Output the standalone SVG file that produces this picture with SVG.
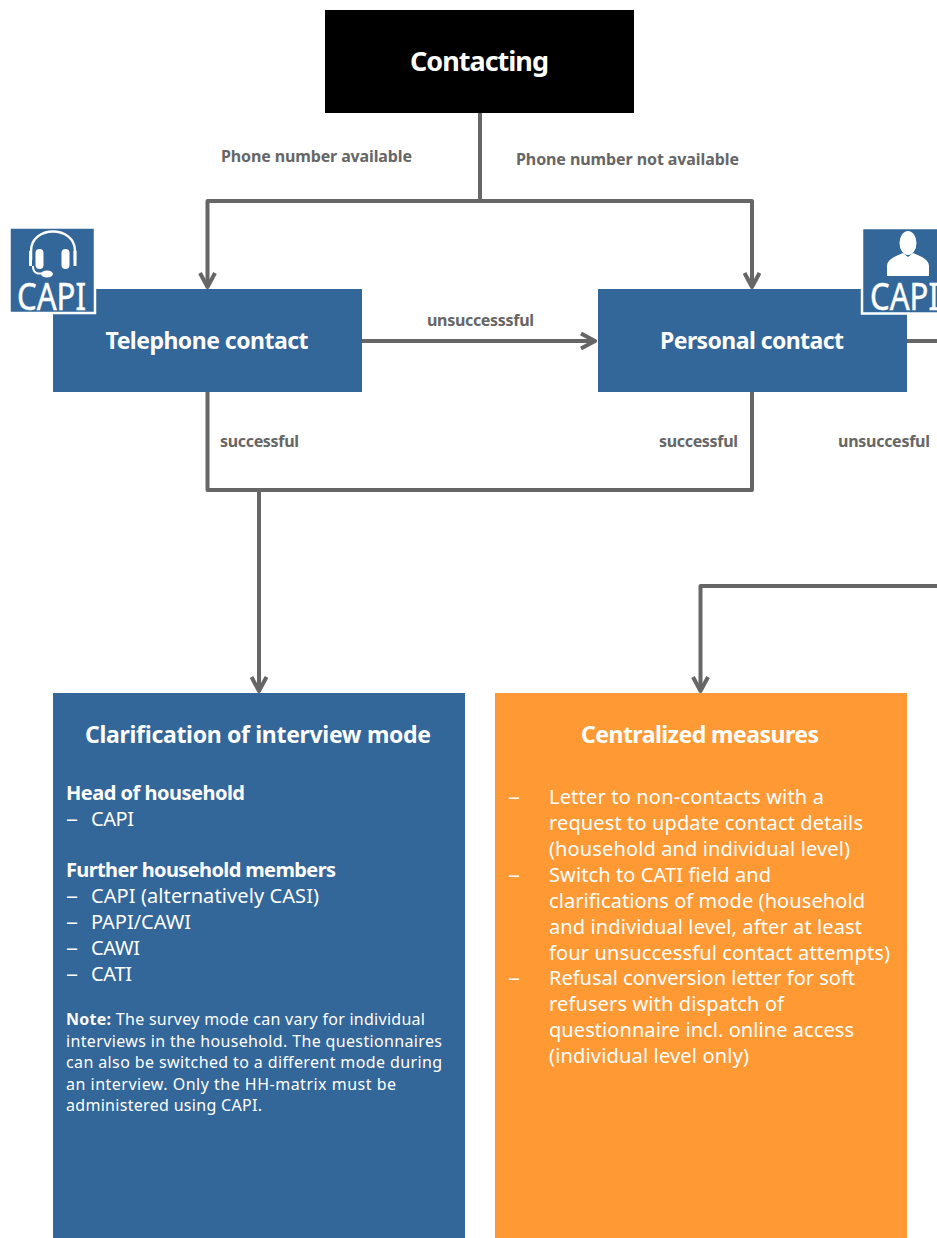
<svg xmlns="http://www.w3.org/2000/svg" width="937" height="1238" viewBox="0 0 937 1238">
<style>
text{font-family:"Noto Sans","Open Sans","Liberation Sans",sans-serif;fill:#fff}
.t{font-weight:700;font-size:23px;text-anchor:middle}
.l{font-weight:700;font-size:16px;fill:#666}
.b{font-size:20px}
.bb{font-size:20px;font-weight:700}
.n{font-size:16px}
.o{font-size:20px;fill:#fff}
.c{font-size:38px;stroke:#fff;stroke-width:.5}
.blue{fill:#336699}
.conn{fill:none;stroke:#666;stroke-width:4;stroke-linejoin:round}
.ic{fill:#fff}
</style>
<defs>
<marker id="a" markerUnits="userSpaceOnUse" markerWidth="20" markerHeight="20" refX="15" refY="9" orient="auto"><path d="M1 1.500L15 9L1 16.500" fill="none" stroke="#666" stroke-width="4" stroke-linejoin="round"/></marker>
</defs>
<g id="connectors">
<path class="conn" d="M480 113V201"/>
<path class="conn" d="M480 201H207.500V287" marker-end="url(#a)"/>
<path class="conn" d="M480 201H752V287" marker-end="url(#a)"/>
<path class="conn" d="M362 341H595" marker-end="url(#a)"/>
<path class="conn" d="M907 341H937"/>
<path class="conn" d="M207.500 392V490H752V392"/>
<path class="conn" d="M259 490V691" marker-end="url(#a)"/>
<path class="conn" d="M937 586H700.500V691" marker-end="url(#a)"/>
</g>
<g id="labels">
<text class="l" x="221" y="162" textLength="191">Phone number available</text>
<text class="l" x="516" y="165" textLength="223">Phone number not available</text>
<text class="l" x="427" y="326" textLength="107">unsuccesssful</text>
<text class="l" x="220" y="447" textLength="79">successful</text>
<text class="l" x="659" y="447" textLength="79">successful</text>
<text class="l" x="838" y="447" textLength="92">unsuccesful</text>
</g>
<g id="contacting">
<rect x="325" y="10" width="309" height="103" fill="#000"/>
<text class="t" x="479.500" y="71" style="font-size:27px" textLength="139">Contacting</text>
</g>
<g id="telephone-contact">
<rect x="53" y="289" width="309" height="103" class="blue"/>
<text class="t" x="207" y="349" textLength="203">Telephone contact</text>
</g>
<g id="personal-contact">
<rect x="598" y="289" width="309" height="103" class="blue"/>
<text class="t" x="752" y="349" textLength="184">Personal contact</text>
</g>
<g id="capi-left">
<rect x="9.500" y="227.500" width="85.500" height="85.500" class="blue" stroke="#fff" stroke-width="2.500"/>
<path d="M31 260V251C31 225 75 225 75 251V260" fill="none" stroke="#fff" stroke-width="2.500"/>
<rect x="35.500" y="249" width="8" height="20" rx="4" class="ic"/>
<rect x="61.500" y="249" width="8" height="20" rx="4" class="ic"/>
<rect x="29" y="251" width="3" height="15" class="ic"/>
<rect x="73.500" y="251" width="3" height="15" class="ic"/>
<path d="M33 266C33 273 37 274 43 273.500" fill="none" stroke="#fff" stroke-width="2"/>
<ellipse cx="47" cy="274" rx="6" ry="3.500" class="ic"/>
<text class="c" x="17" y="310" textLength="69" lengthAdjust="spacingAndGlyphs">CAPI</text>
</g>
<g id="capi-right">
<rect x="862" y="228" width="85" height="85.500" class="blue" stroke="#fff" stroke-width="2.500"/>
<ellipse cx="908" cy="243" rx="8.500" ry="12" class="ic"/>
<path d="M887 276V266C887 259 896 256 903 253L908 257L913 253C920 256 929 259 929 266V276Z" class="ic"/>
<text class="c" x="870" y="310" textLength="69" lengthAdjust="spacingAndGlyphs">CAPI</text>
</g>
<g id="clarification">
<rect x="53" y="693" width="412" height="545" class="blue"/>
<text class="t" x="258" y="743" textLength="346">Clarification of interview mode</text>
<text class="bb" x="66" y="800" textLength="179">Head of household</text>
<text class="b" x="66" y="826" textLength="12" lengthAdjust="spacingAndGlyphs">–</text><text class="b" x="91" y="826" textLength="43">CAPI</text>
<text class="bb" x="66" y="877" textLength="270">Further household members</text>
<text class="b" x="66" y="903" textLength="12" lengthAdjust="spacingAndGlyphs">–</text><text class="b" x="91" y="903" textLength="228">CAPI (alternatively CASI)</text>
<text class="b" x="66" y="929" textLength="12" lengthAdjust="spacingAndGlyphs">–</text><text class="b" x="91" y="929" textLength="100">PAPI/CAWI</text>
<text class="b" x="66" y="955" textLength="12" lengthAdjust="spacingAndGlyphs">–</text><text class="b" x="91" y="955" textLength="49">CAWI</text>
<text class="b" x="66" y="981" textLength="12" lengthAdjust="spacingAndGlyphs">–</text><text class="b" x="91" y="981" textLength="41">CATI</text>
<text class="n" x="66" y="1025" textLength="359"><tspan font-weight="700">Note:</tspan> The survey mode can vary for individual</text>
<text class="n" x="66" y="1047" textLength="376">interviews in the household. The questionnaires</text>
<text class="n" x="66" y="1068" textLength="376">can also be switched to a different mode during</text>
<text class="n" x="66" y="1090" textLength="330">an interview. Only the HH-matrix must be</text>
<text class="n" x="66" y="1111" textLength="196">administered using CAPI.</text>
</g>
<g id="centralized">
<rect x="495" y="693" width="412" height="545" fill="#ff9933"/>
<text class="t" x="700" y="743" textLength="238">Centralized measures</text>
<text class="o" x="508" y="804" textLength="12" lengthAdjust="spacingAndGlyphs">–</text>
<text class="o" x="549" y="804" textLength="275">Letter to non-contacts with a</text>
<text class="o" x="549" y="830" textLength="314">request to update contact details</text>
<text class="o" x="549" y="856" textLength="301">(household and individual level)</text>
<text class="o" x="508" y="882" textLength="12" lengthAdjust="spacingAndGlyphs">–</text>
<text class="o" x="549" y="882" textLength="222">Switch to CATI field and</text>
<text class="o" x="549" y="908" textLength="316">clarifications of mode (household</text>
<text class="o" x="549" y="934" textLength="313">and individual level, after at least</text>
<text class="o" x="549" y="960" textLength="341">four unsuccessful contact attempts)</text>
<text class="o" x="508" y="985" textLength="12" lengthAdjust="spacingAndGlyphs">–</text>
<text class="o" x="549" y="985" textLength="306">Refusal conversion letter for soft</text>
<text class="o" x="549" y="1011" textLength="235">refusers with dispatch of</text>
<text class="o" x="549" y="1037" textLength="305">questionnaire incl. online access</text>
<text class="o" x="549" y="1063" textLength="200">(individual level only)</text>
</g>
</svg>
